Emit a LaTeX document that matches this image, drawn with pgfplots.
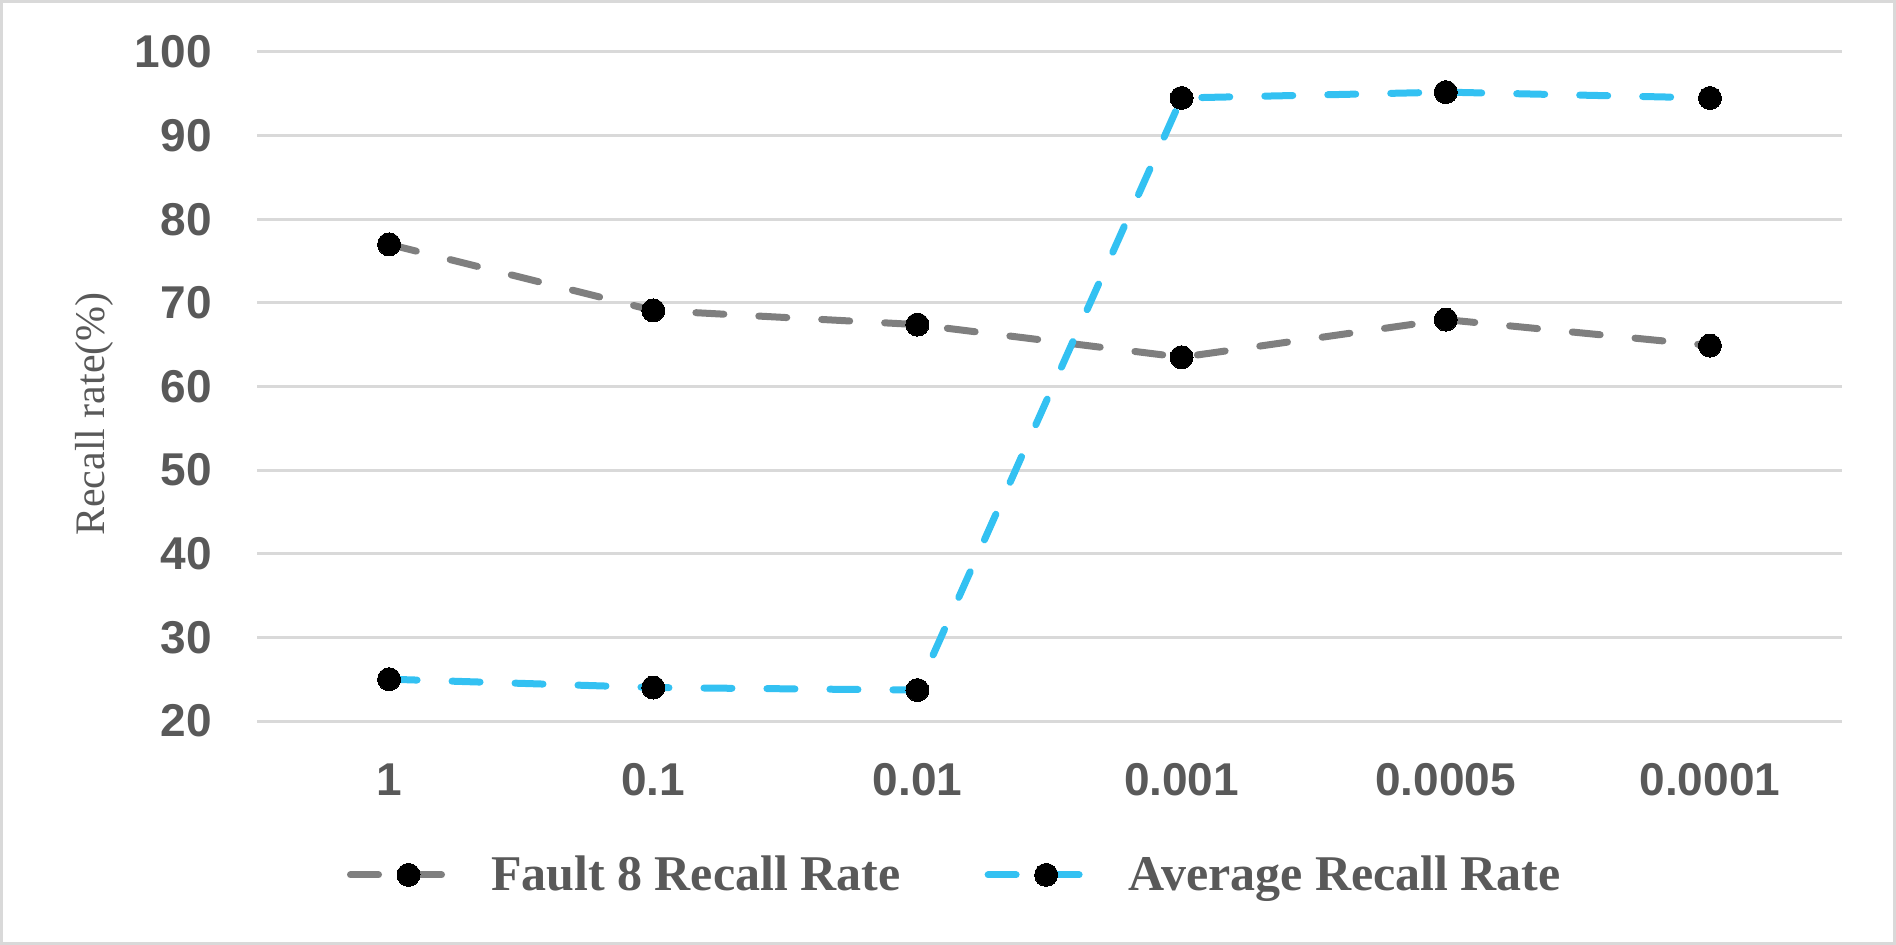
\documentclass[border=0pt]{standalone}
\usepackage{fontspec}
\setmainfont{Liberation Serif}
\setsansfont{Liberation Sans}
\usepackage{pgfplots}
\pgfplotsset{compat=1.18}

\definecolor{gridgray}{HTML}{D9D9D9}
\definecolor{txtgray}{HTML}{595959}
\definecolor{faultgray}{HTML}{7F7F7F}
\definecolor{avgblue}{HTML}{33C1F2}

\begin{document}
\begin{tikzpicture}
\useasboundingbox (0,0) rectangle (948bp,472.5bp);
\draw[gridgray, line width=1.5bp] (0.75bp,0.75bp) rectangle (947.25bp,471.75bp);
\begin{axis}[
  at={(128.5bp,112bp)}, anchor=south west,
  scale only axis, width=792.5bp, height=334.5bp,
  xmin=-0.5, xmax=5.5, ymin=20, ymax=100,
  xtick={0,...,5},
  xticklabels={1,0.1,0.01,0.001,0.0005,0.0001},
  ytick={20,30,...,100},
  axis line style={draw=none},
  major tick length=0pt,
  ymajorgrids,
  grid style={gridgray, line width=1.5bp},
  /pgf/number format/assume math mode=true,
  ticklabel style={font=\sffamily\bfseries\fontsize{23bp}{27bp}\selectfont, text=txtgray, inner sep=0pt},
  xticklabel style={anchor=center, yshift=-29.5bp},
  yticklabel style={anchor=east, xshift=-22.5bp},
  clip=false,
  legend columns=2,
  legend style={at={(axis description cs:0.4397,-0.230)}, anchor=center,
    draw=none, fill=none, inner sep=0pt,
    font=\rmfamily\bfseries\fontsize{25bp}{29bp}\selectfont, text=txtgray,
    nodes={inner sep=0pt},
    /tikz/every odd column/.append style={column sep=20bp},
    /tikz/every even column/.append style={column sep=42bp}},
  legend image code/.code={
    \draw[#1, mark repeat=2, mark phase=2] plot coordinates {(0bp,0bp) (29bp,0bp) (48.5bp,0bp)};
  },
]
\addplot[faultgray, line width=3.5bp, dash pattern=on 14bp off 17.5bp, line cap=round,
  mark=*, mark size=5.75bp, mark options={solid, fill=black, draw=black, line width=0pt}]
  coordinates {(0,77.0) (1,69.1) (2,67.4) (3,63.5) (4,68.0) (5,64.9)};
\addlegendentry{Fault 8 Recall Rate}
\addplot[avgblue, line width=3.5bp, dash pattern=on 14bp off 17.5bp, line cap=round,
  mark=*, mark size=5.75bp, mark options={solid, fill=black, draw=black, line width=0pt}]
  coordinates {(0,25.0) (1,24.0) (2,23.7) (3,94.5) (4,95.2) (5,94.5)};
\addlegendentry{Average Recall Rate}
\end{axis}
\node[rotate=90, font=\fontsize{21bp}{24bp}\selectfont, text=txtgray] at (47bp,265.5bp) {Recall rate(\%)};
\end{tikzpicture}
\end{document}
